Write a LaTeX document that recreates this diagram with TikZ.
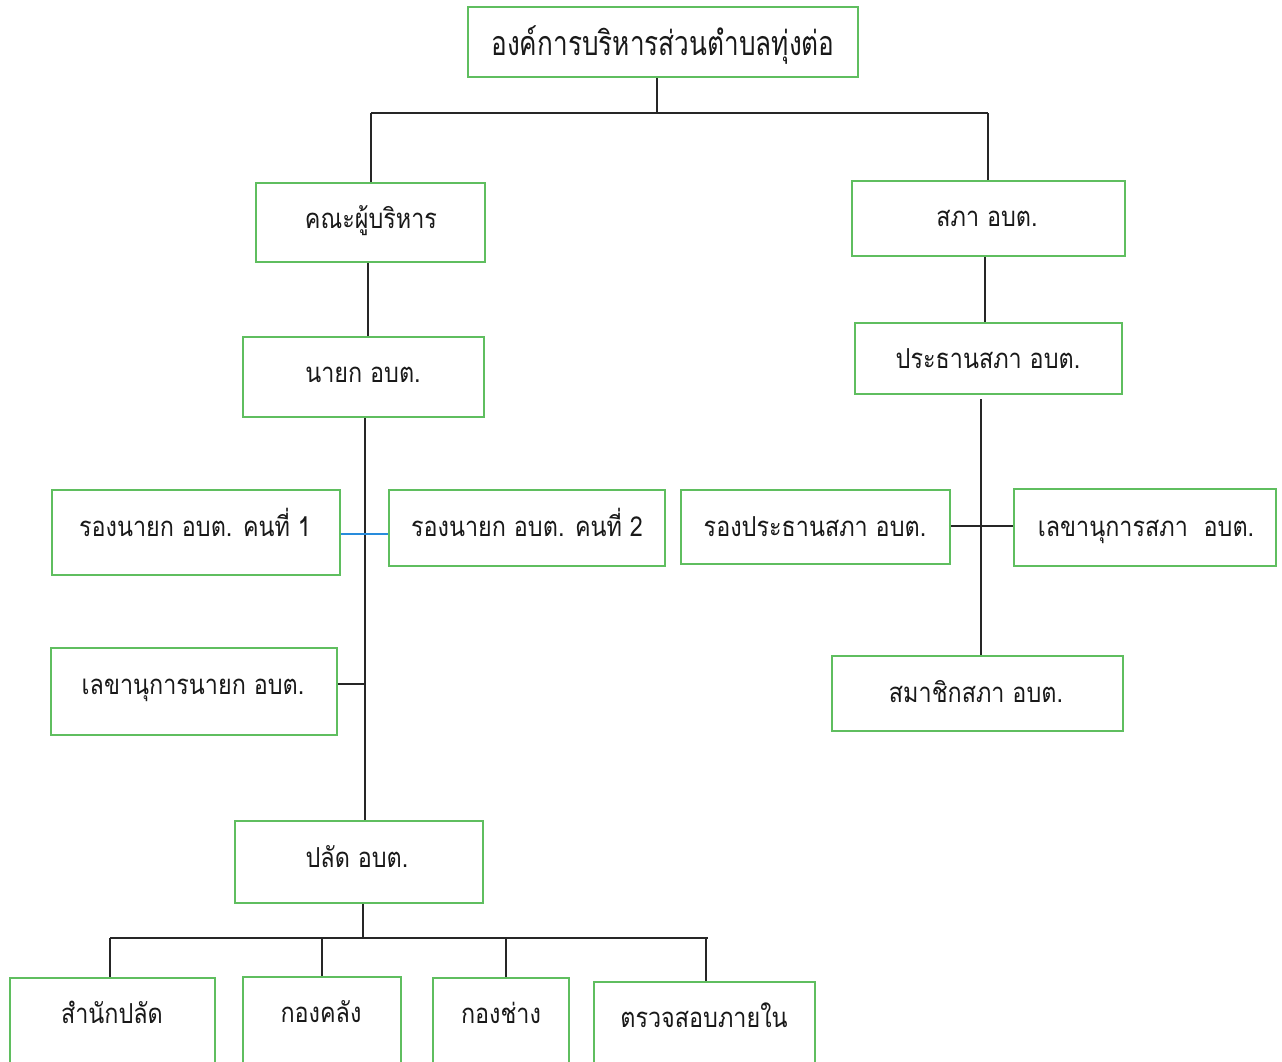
\documentclass[tikz,border=0pt]{standalone}
\usepackage{fontspec}
\newfontfamily\thaifont[Script=Thai,FakeStretch=0.85]{Loma}
\newfontfamily\thaitop[Script=Thai,FakeStretch=0.77]{Loma}
\definecolor{boxgreen}{RGB}{95,190,95}
\definecolor{linkblue}{RGB}{40,140,220}
\begin{document}
\begin{tikzpicture}[x=1pt,y=-1pt,
  box/.style={draw=boxgreen,line width=2.4pt,inner sep=0pt,fill=white},
  lowbox/.style={box,anchor=north,minimum height=120pt},
  lab/.style={font=\thaifont\fontsize{27.5}{30}\selectfont,inner sep=0pt,
    text height=10pt,text depth=0pt,text=black!90,yshift=-5pt},
  toplab/.style={lab,font=\thaitop\fontsize{34}{38}\selectfont,yshift=-1pt},
  conn/.style={line width=1.7pt,black!85}]
\useasboundingbox (0,0) rectangle (1282,1061);
\clip (0,0) rectangle (1282,1061);
\fill[white] (0,0) rectangle (1282,1061);
% boxes
\node[box,minimum width=390pt,minimum height=70pt] (org) at (663,42) {};
\node[box,minimum width=229pt,minimum height=79pt] (exec) at (370.5,222.5) {};
\node[box,minimum width=241pt,minimum height=80pt] (mayor) at (363.5,377) {};
\node[box,minimum width=288pt,minimum height=85pt] (dep1) at (196,532.5) {};
\node[box,minimum width=276pt,minimum height=76pt] (dep2) at (527,528) {};
\node[box,minimum width=286pt,minimum height=87pt] (secm) at (194,691.5) {};
\node[box,minimum width=248pt,minimum height=82pt] (clerk) at (359,862) {};
\node[lowbox,minimum width=205pt] (d1) at (112.5,977) {};
\node[lowbox,minimum width=158pt] (d2) at (322,976) {};
\node[lowbox,minimum width=136pt] (d3) at (501,977) {};
\node[lowbox,minimum width=221pt] (d4) at (704.5,981) {};
\node[box,minimum width=273pt,minimum height=75pt] (council) at (988.5,218.5) {};
\node[box,minimum width=267pt,minimum height=71pt] (pres) at (988.5,358.5) {};
\node[box,minimum width=269pt,minimum height=74pt] (vpres) at (815.5,527) {};
\node[box,minimum width=262pt,minimum height=77pt] (csec) at (1145,527.5) {};
\node[box,minimum width=291pt,minimum height=75pt] (member) at (977.5,693.5) {};
% texts
\node[toplab] (torg) at (663,44) {องค์การบริหารส่วนตำบลทุ่งต่อ};
\node[lab] (texec) at (371,218) {คณะผู้บริหาร};
\node[lab] (tmayor) at (363,372) {นายก อบต.};
\node[lab] (tdep1) at (195,526) {รองนายก อบต. คนที่ 1};
\node[lab] (tdep2) at (527,526) {รองนายก อบต. คนที่ 2};
\node[lab] (tsecm) at (193,684) {เลขานุการนายก อบต.};
\node[lab] (tclerk) at (357,857) {ปลัด อบต.};
\node[lab] (t1) at (112,1013) {สำนักปลัด};
\node[lab] (t2) at (321,1012) {กองคลัง};
\node[lab] (t3) at (501,1013) {กองช่าง};
\node[lab] (t4) at (704,1017) {ตรวจสอบภายใน};
\node[lab] (tcouncil) at (987,216) {สภา อบต.};
\node[lab] (tpres) at (988,358) {ประธานสภา อบต.};
\node[lab] (tvpres) at (815,526) {รองประธานสภา อบต.};
\node[lab] (tcsec) at (1146,526) {เลขานุการสภา~~อบต.};
\node[lab] (tmember) at (976,692) {สมาชิกสภา อบต.};
% coordinates
\coordinate (bus) at (657,113);
\coordinate (busL) at (371,113);
\coordinate (busR) at (988,113);
\coordinate (c1) at (368,300);
\coordinate (sp) at (365,600);
\coordinate (bl) at (365,534);
\coordinate (s2) at (365,684);
\coordinate (bus2) at (363,938);
\coordinate (b2L) at (110,938);
\coordinate (b2R) at (708,938);
\coordinate (k2) at (322,938);
\coordinate (k3) at (506,938);
\coordinate (k4) at (706,938);
\coordinate (r1) at (985,300);
\coordinate (r2) at (981,526);
% connectors
\draw[conn] (org.south -| bus) -- (bus);
\draw[conn] (busL) -- (busR);
\draw[conn] (busL) -- (busL |- exec.north);
\draw[conn] (busR) -- (busR |- council.north);
\draw[conn] (c1 |- exec.south) -- (c1 |- mayor.north);
\draw[conn] (sp |- mayor.south) -- (sp |- clerk.north);
\draw[line width=1.7pt,linkblue] (bl -| dep1.east) -- (bl -| dep2.west);
\draw[conn] (s2 -| secm.east) -- (s2);
\draw[conn] (bus2 |- clerk.south) -- (bus2);
\draw[conn] (b2L) -- (b2R);
\draw[conn] (b2L) -- (b2L |- d1.north);
\draw[conn] (k2) -- (k2 |- d2.north);
\draw[conn] (k3) -- (k3 |- d3.north);
\draw[conn] (k4) -- (k4 |- d4.north);
\draw[conn] (r1 |- council.south) -- (r1 |- pres.north);
\draw[conn] ([yshift=-4pt]r2 |- pres.south) -- (r2 |- member.north);
\draw[conn] (r2 -| vpres.east) -- (r2 -| csec.west);
\end{tikzpicture}
\end{document}
